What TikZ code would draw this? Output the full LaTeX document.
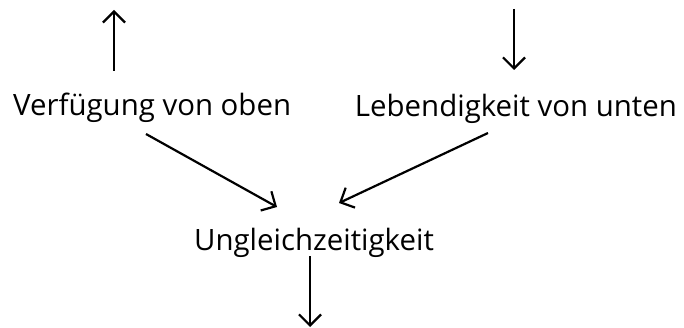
\documentclass[tikz,border=0pt]{standalone}
\usepackage{fontspec}
\setmainfont{Open Sans}
\usetikzlibrary{arrows.meta,calc}
\begin{document}
\begin{tikzpicture}[x=1pt,y=-1pt,
  label/.style={inner sep=0pt,font=\fontsize{29.4}{35}\selectfont},
  arr/.style={line width=2.2pt,-{Straight Barb[length=11pt,width=22pt,line width=2.2pt]}}]
  \useasboundingbox (0,0) rectangle (684,328);
  % the three labels
  \node[label,anchor=base west] (oben) at (13,116) {Verfügung von oben};
  \node[label,anchor=base east] (unten) at (677,117) {Lebendigkeit von unten};
  \node[label,anchor=base] (ungl) at (314,251) {Ungleichzeitigkeit};
  % free ends of the vertical arrows
  \coordinate (upend) at ($(oben.base west)+(101,-106)$);
  \coordinate (downstart) at ($(unten.base east)+(-163,-108)$);
  \coordinate (bottomend) at ($(ungl.base)+(-4,76)$);
  % start and end points taken relative to the labels
  \coordinate (upstart) at ($(oben.base west)+(101,-45)$);
  \coordinate (downend) at ($(unten.base east)+(-163,-47)$);
  \coordinate (lstart) at ($(oben.base west)+(133,18)$);
  \coordinate (lend) at ($(ungl.base)+(-37,-44)$);
  \coordinate (rstart) at ($(unten.base east)+(-189,16)$);
  \coordinate (rend) at ($(ungl.base)+(25,-48)$);
  \coordinate (bstart) at ($(ungl.base)+(-4,5)$);
  % connectors
  \draw[arr] (upstart) -- (upend);
  \draw[arr] (downstart) -- (downend);
  \draw[arr] (lstart) -- (lend);
  \draw[arr] (rstart) -- (rend);
  \draw[arr] (bstart) -- (bottomend);
\end{tikzpicture}
\end{document}
